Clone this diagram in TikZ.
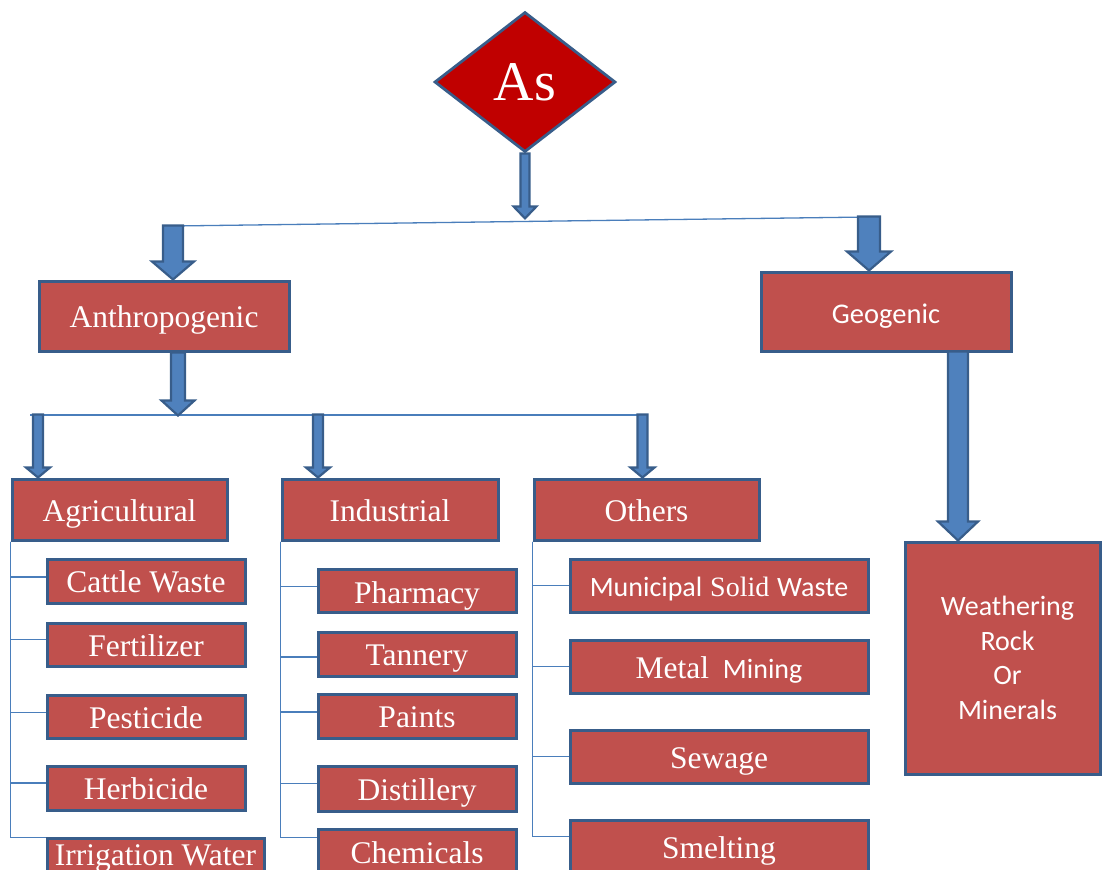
\documentclass[tikz,border=0pt]{standalone}
\usepackage{fontspec}
\setmainfont{Liberation Serif}
\newfontfamily\carl{Carlito}
\usetikzlibrary{shapes.geometric,calc}
\definecolor{boxc}{HTML}{C0504D}
\definecolor{bordc}{HTML}{385D8A}
\definecolor{arrc}{HTML}{4F81BD}
\definecolor{linec}{HTML}{4A7EBB}
\definecolor{diac}{HTML}{C00000}
\newcommand{\barr}[5]{\begin{scope}[shift={#1}]\draw[barrow] (0,0) -- (-#4,-#5) -- (-#3,-#5) -- (-#3,-#2) -- (#3,-#2) -- (#3,-#5) -- (#4,-#5) -- cycle;\end{scope}}
\tikzset{
  box/.style={draw=bordc, line width=3pt, fill=boxc, text=white, inner sep=0pt, rectangle,
    font=\fontsize{31.5}{38}\selectfont, text height=23pt, text depth=0pt},
  barrow/.style={draw=bordc, line width=2.2pt, fill=arrc, line join=miter},
  conn/.style={draw=linec, line width=1.3pt},
}
\begin{document}
\begin{tikzpicture}[x=1pt,y=-1pt]
\useasboundingbox (0,0) rectangle (1103,870);
\clip (0,0) rectangle (1103,870);
% diamond
\node[diamond, draw=bordc, line width=2.8pt, fill=diac, text=white, inner sep=0pt,
  minimum width=181pt, minimum height=140pt, font=\fontsize{56}{60}\selectfont,
  text height=37pt, text depth=0pt] (dia) at (525,82) {As};
% main boxes
\node[box, minimum width=250pt, minimum height=70pt] (anthro) at (164,316) {Anthropogenic};
\node[box, minimum width=250pt, minimum height=79pt, text height=23pt, font=\carl\fontsize{28.5}{34}\selectfont] (geo) at (886,311.5) {Geogenic};
\node[box, minimum width=215pt, minimum height=61pt] (agri) at (119.5,509.5) {Agricultural};
\node[box, minimum width=216pt, minimum height=61pt] (ind) at (390,509.5) {Industrial};
\node[box, minimum width=225pt, minimum height=61pt] (oth) at (646.5,509.5) {Others};
\node[box, minimum width=195pt, minimum height=232pt, align=center, text height=, text depth=,
  font=\carl\fontsize{28}{34.5}\selectfont] (weath) at (1002.5,658) {\hspace*{10pt}Weathering\\\hspace*{10pt}Rock\\\hspace*{10pt}Or\\\hspace*{10pt}Minerals};
% agricultural
\node[box, minimum width=198pt, minimum height=44pt] (cattle) at (146,581) {Cattle Waste};
\node[box, minimum width=198pt, minimum height=43pt] (fert) at (146,644.5) {Fertilizer};
\node[box, minimum width=198pt, minimum height=43pt] (pest) at (146,716.5) {Pesticide};
\node[box, minimum width=198pt, minimum height=44pt] (herb) at (146,788) {Herbicide};
\node[box, minimum width=217pt, minimum height=43pt, text height=11pt] (irr) at (155.5,859.5) {Irrigation Water};
% industrial
\node[box, minimum width=198pt, minimum height=43pt, text height=25pt] (pharm) at (417,590.5) {Pharmacy};
\node[box, minimum width=198pt, minimum height=44pt] (tan) at (417,654) {Tannery};
\node[box, minimum width=198pt, minimum height=44pt] (paint) at (417,716) {Paints};
\node[box, minimum width=198pt, minimum height=45pt] (dist) at (417,788.5) {Distillery};
\node[box, minimum width=198pt, minimum height=43pt, text height=25pt] (chem) at (417,850.5) {Chemicals};
% others
\node[box, minimum width=298pt, minimum height=53pt, text height=21pt] (mun) at (719,585.5)
  {{\carl\fontsize{28}{34}\selectfont Municipal} {\fontsize{28}{34}\selectfont Solid} {\carl\fontsize{28}{34}\selectfont Waste}};
\node[box, minimum width=298pt, minimum height=53pt] (metal) at (719,666.5)
  {Metal\hspace{6pt} {\carl\fontsize{28}{34}\selectfont Mining}};
\node[box, minimum width=298pt, minimum height=53pt] (sew) at (719,756.5) {Sewage};
\node[box, minimum width=298pt, minimum height=53pt] (smelt) at (719,846.5) {Smelting};
% horizontal lines
\coordinate (h1L) at (173,226);
\coordinate (h1R) at (869,217);
\coordinate (h2L) at (30,415);
\coordinate (h2R) at (648,415);
\draw[conn] (h1L) -- (h1R);
\draw[conn] (h2L) -- (h2R);
% tree connectors
\draw[conn] (agri.south west) |- ([yshift=4pt]cattle.west);
\draw[conn] (agri.south west) |- ([yshift=5pt]fert.west);
\draw[conn] (agri.south west) |- ([yshift=4pt]pest.west);
\draw[conn] (agri.south west) |- ([yshift=5pt]herb.west);
\draw[conn] (agri.south west) |- ([yshift=-1pt]irr.north west);
\draw[conn] (ind.south west) |- ([yshift=4pt]pharm.west);
\draw[conn] (ind.south west) |- ([yshift=-3pt]tan.west);
\draw[conn] (ind.south west) |- ([yshift=4pt]paint.west);
\draw[conn] (ind.south west) |- ([yshift=5pt]dist.west);
\draw[conn] (ind.south west) |- ([yshift=-10pt]chem.north west);
\draw[conn] (oth.south west) |- (mun.west);
\draw[conn] (oth.south west) |- (metal.west);
\draw[conn] (oth.south west) |- (sew.west);
\draw[conn] (oth.south west) |- ([yshift=-18pt]smelt.north west);
% block arrows
\barr{([yshift=-65pt]dia.south)}{65}{4.5}{11.5}{12}
\barr{([xshift=9pt]anthro.north)}{54}{10}{21}{18}
\barr{([xshift=-17pt]geo.north)}{54}{11}{22}{19}
\barr{([xshift=14pt,yshift=-63pt]anthro.south)}{63}{7}{16.5}{15}
\barr{([xshift=-81.5pt]agri.north)}{63}{5}{12}{10}
\barr{([xshift=-72pt]ind.north)}{63}{5}{12}{10}
\barr{([xshift=-4pt]oth.north)}{63}{5}{12}{10}
\barr{([xshift=-44.5pt]weath.north)}{189}{10}{20}{19}
\end{tikzpicture}
\end{document}
